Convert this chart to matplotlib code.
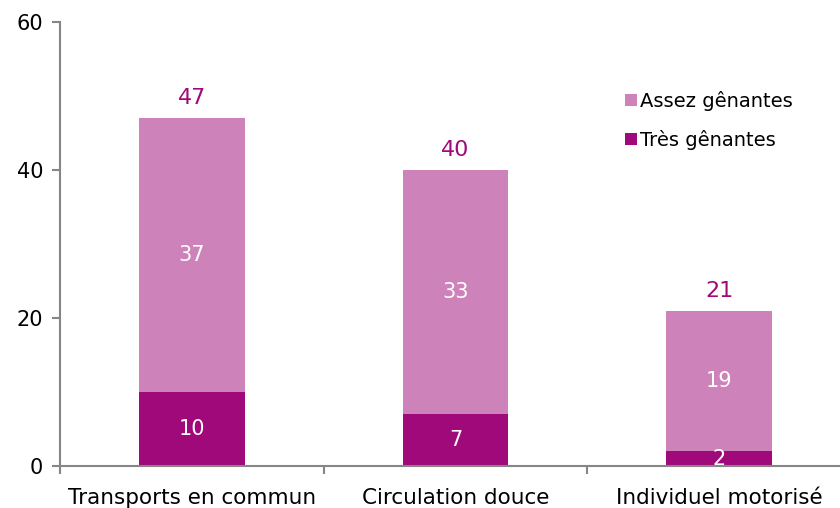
import matplotlib
matplotlib.use("Agg")
import matplotlib.pyplot as plt
import numpy as np

categories = ["Transports en commun", "Circulation douce", "Individuel motorisé"]
tres = [10, 7, 2]
assez = [37, 33, 19]
totals = [47, 40, 21]
yticks = [0, 20, 40, 60]

c_light = "#CE82BA"
c_dark = "#A0097A"
grey = "#868686"

plt.rcParams['font.family'] = ['DejaVu Sans']
fig = plt.figure(figsize=(8.4, 5.08), dpi=100)
ax = fig.add_axes([60/840, 42/508, 791/840, 444/508])

x = np.arange(len(categories))
w = 0.4
b1 = ax.bar(x, tres, w, color=c_dark, label="Très gênantes")
b2 = ax.bar(x, assez, w, bottom=tres, color=c_light, label="Assez gênantes")

for i in range(len(x)):
    ax.text(x[i], tres[i] / 2, str(tres[i]), ha="center", va="center",
            color="white", fontsize=15)
    ax.text(x[i], tres[i] + assez[i] / 2, str(assez[i]), ha="center", va="center",
            color="white", fontsize=15)
    ax.text(x[i], tres[i] + assez[i] + 2.7, str(totals[i]), ha="center", va="center",
            color=c_dark, fontsize=16)

ax.set_xlim(-0.5, 2.5)
ax.set_ylim(0, 60)
ax.set_yticks(yticks)
ax.set_yticklabels([str(v) for v in yticks], fontsize=15)
ax.set_xticks(x)
ax.set_xticklabels(categories, fontsize=15.5)
ax.tick_params(axis="x", length=0, pad=16)
ax.set_xticks([-0.5, 0.5, 1.5, 2.5], minor=True)
ax.tick_params(axis="x", which="minor", length=6, color=grey, width=1.5, direction="out")
ax.tick_params(axis="y", length=6, color=grey, width=1.5, direction="out", pad=6)

for s in ["top", "right"]:
    ax.spines[s].set_visible(False)
for s in ["left", "bottom"]:
    ax.spines[s].set_color(grey)
    ax.spines[s].set_linewidth(1.5)

handles = [b2, b1]
leg = ax.legend(handles, ["Assez gênantes", "Très gênantes"], loc="upper left",
                bbox_to_anchor=(0.692, 0.885), frameon=False, fontsize=14,
                handlelength=0.6, handleheight=0.6, handletextpad=0.2,
                labelspacing=1.0)

fig.savefig("out.png", dpi=100)
